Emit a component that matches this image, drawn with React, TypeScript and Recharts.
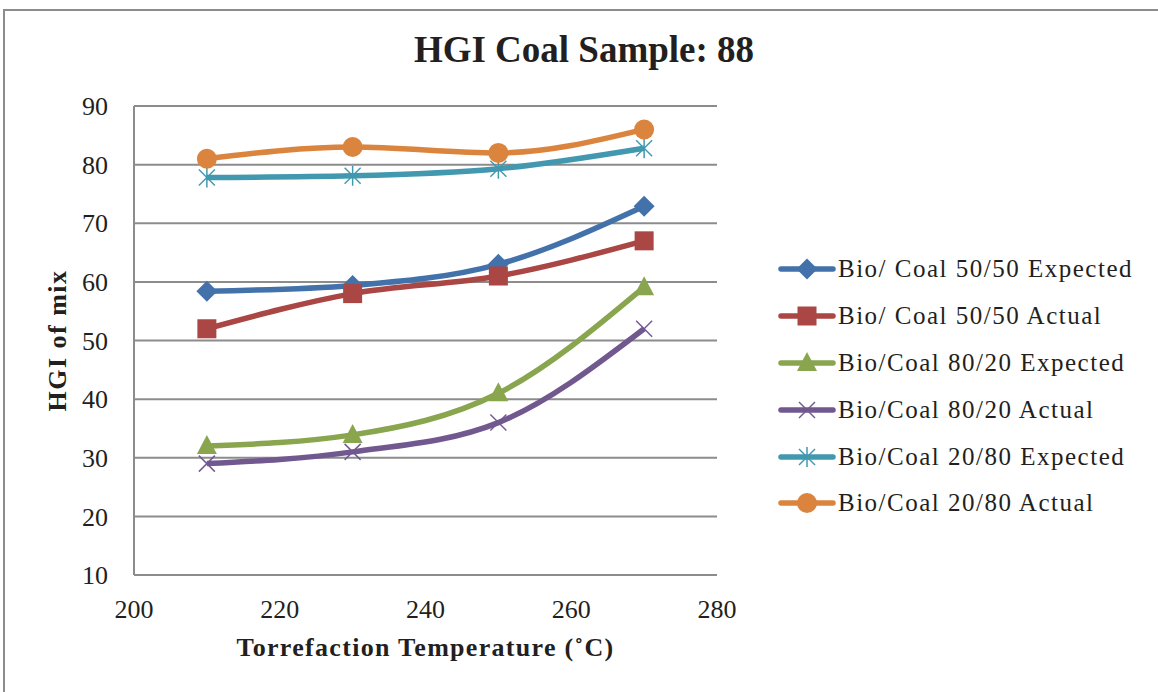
import React from 'react';
import { LineChart, Line, XAxis, YAxis, CartesianGrid } from 'recharts';

const temps = [210, 230, 250, 270];
const expected5050 = [58.4, 59.4, 63.0, 72.9];
const actual5050 = [52, 58, 61, 67];
const expected8020 = [32.0, 33.9, 41.0, 59.1];
const actual8020 = [29, 31, 36, 52];
const expected2080 = [77.8, 78.1, 79.3, 82.8];
const actual2080 = [81, 83, 82, 86];

const xTicks = [200, 220, 240, 260, 280];
const yTicks = [10, 20, 30, 40, 50, 60, 70, 80, 90];

const FONT = '"Liberation Serif", "DejaVu Serif", serif';

type SeriesDef = { key: string; name: string; color: string; shape: string; values: number[] };

const series: SeriesDef[] = [
  { key: 'e5050', name: 'Bio/ Coal 50/50 Expected', color: '#4372AA', shape: 'diamond', values: expected5050 },
  { key: 'a5050', name: 'Bio/ Coal 50/50 Actual', color: '#AA4643', shape: 'square', values: actual5050 },
  { key: 'e8020', name: 'Bio/Coal 80/20 Expected', color: '#89A54E', shape: 'triangle', values: expected8020 },
  { key: 'a8020', name: 'Bio/Coal 80/20 Actual', color: '#71588F', shape: 'x', values: actual8020 },
  { key: 'e2080', name: 'Bio/Coal 20/80 Expected', color: '#4198AF', shape: 'star', values: expected2080 },
  { key: 'a2080', name: 'Bio/Coal 20/80 Actual', color: '#DB843D', shape: 'circle', values: actual2080 },
];

const data = temps.map((t, i) => {
  const row: any = { t };
  series.forEach((s) => { row[s.key] = s.values[i]; });
  return row;
});

const Marker = ({ cx, cy, shape, color }: any) => {
  if (cx == null || cy == null) return null;
  switch (shape) {
    case 'diamond':
      return <polygon points={`${cx},${cy - 10.5} ${cx + 10.5},${cy} ${cx},${cy + 10.5} ${cx - 10.5},${cy}`} fill={color} />;
    case 'square':
      return <rect x={cx - 9.5} y={cy - 9.5} width={19} height={19} fill={color} />;
    case 'triangle':
      return <polygon points={`${cx},${cy - 11} ${cx + 10},${cy + 8} ${cx - 10},${cy + 8}`} fill={color} />;
    case 'x':
      return (
        <g stroke={color} strokeWidth={1.5}>
          <line x1={cx - 8} y1={cy - 8} x2={cx + 8} y2={cy + 8} />
          <line x1={cx - 8} y1={cy + 8} x2={cx + 8} y2={cy - 8} />
        </g>
      );
    case 'star':
      return (
        <g stroke={color} strokeWidth={1.5}>
          <line x1={cx - 8} y1={cy - 8} x2={cx + 8} y2={cy + 8} />
          <line x1={cx - 8} y1={cy + 8} x2={cx + 8} y2={cy - 8} />
          <line x1={cx} y1={cy - 10} x2={cx} y2={cy + 10} />
        </g>
      );
    case 'circle':
    default:
      return <circle cx={cx} cy={cy} r={10} fill={color} />;
  }
};

const ChartLegend = () => (
  <div style={{ position: 'absolute', left: 778, top: 246, width: 380, fontFamily: FONT }}>
    {series.map((s) => (
      <div key={s.key} style={{ display: 'flex', alignItems: 'center', height: 46.8 }}>
        <svg width={58} height={24} style={{ marginRight: 2 }}>
          <line x1={3} y1={12} x2={55} y2={12} stroke={s.color} strokeWidth={5.5} strokeLinecap="round" />
          <Marker cx={29} cy={12} shape={s.shape} color={s.color} />
        </svg>
        <span style={{ fontSize: 25, color: '#231F20', whiteSpace: 'nowrap', letterSpacing: 1.5 }}>{s.name}</span>
      </div>
    ))}
  </div>
);

export default function App() {
  return (
    <div style={{ position: 'absolute', left: 0, top: 0, width: 1158, height: 692, background: '#fff', overflow: 'hidden' }}>
      <div style={{ position: 'absolute', left: 3, top: 9, width: 1160, height: 690, border: '2px solid #8C8C8C', boxSizing: 'border-box' }} />
      <div style={{ position: 'absolute', left: 0, top: 28, width: 1168, textAlign: 'center', fontFamily: FONT, fontWeight: 'bold', fontSize: 37, color: '#231F20' }}>
        HGI Coal Sample: 88
      </div>
      <div style={{ position: 'absolute', left: 0, top: 0 }}>
        <LineChart width={1158} height={692} data={data} margin={{ top: 106, right: 441, left: 34, bottom: 32 }}>
          <CartesianGrid vertical={false} stroke="#8C8C8C" strokeWidth={2} />
          <XAxis
            dataKey="t"
            type="number"
            domain={[200, 280]}
            ticks={xTicks}
            tickLine={false}
            axisLine={{ stroke: '#8C8C8C', strokeWidth: 2 }}
            tick={{ fill: '#231F20', fontSize: 26, fontFamily: FONT }}
            tickMargin={19}
            height={85}
            label={{ value: 'Torrefaction Temperature (˚C)', position: 'insideBottom', offset: 4, style: { fontFamily: FONT, fontWeight: 'bold', fontSize: 26, fill: '#231F20', letterSpacing: 1.3 } }}
          />
          <YAxis
            type="number"
            domain={[10, 90]}
            ticks={yTicks}
            tickLine={false}
            axisLine={{ stroke: '#8C8C8C', strokeWidth: 2 }}
            tick={{ fill: '#231F20', fontSize: 26, fontFamily: FONT }}
            tickMargin={20}
            width={100}
            label={{ value: 'HGI of mix', angle: -90, position: 'insideLeft', offset: 23, style: { textAnchor: 'middle', fontFamily: FONT, fontWeight: 'bold', fontSize: 26, fill: '#231F20', letterSpacing: 1.5 } }}
          />
          {series.map((s) => (
            <Line
              key={s.key}
              type="monotone"
              dataKey={s.key}
              name={s.name}
              stroke={s.color}
              strokeWidth={5.5}
              dot={(p: any) => <Marker key={`${s.key}-${p.index}`} cx={p.cx} cy={p.cy} shape={s.shape} color={s.color} />}
              activeDot={false}
              isAnimationActive={false}
            />
          ))}
        </LineChart>
      </div>
      <ChartLegend />
    </div>
  );
}
